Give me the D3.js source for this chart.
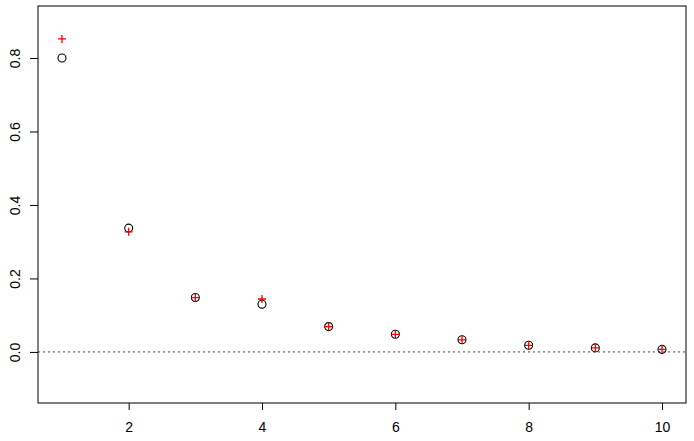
<!DOCTYPE html>
<html>
<head>
<meta charset="utf-8">
<script src="https://cdn.jsdelivr.net/npm/d3@7"></script>
<style>
  body { margin: 0; background: #fff; }
  svg text { font-family: "Liberation Sans", Arial, sans-serif; font-size: 14px; fill: #000; }
</style>
</head>
<body>
<div id="chart"></div>
<script>
// lag values, observed (circles) and fitted (red plus)
let lags = [1, 2, 3, 4, 5, 6, 7, 8, 9, 10];
let observed = [0.800, 0.337, 0.148, 0.130, 0.069, 0.048, 0.033, 0.018, 0.011, 0.007];
let fitted = [0.852, 0.327, 0.148, 0.144, 0.069, 0.048, 0.033, 0.018, 0.011, 0.007];
let xTicks = [2, 4, 6, 8, 10];
let yTicks = [0.0, 0.2, 0.4, 0.6, 0.8];

let width = 694,
    height = 441,
    margin = {top: 6, right: 8, bottom: 38, left: 38};

let svg = d3.select("#chart")
    .append("svg")
    .attr("width", width)
    .attr("height", height);

let x = d3.scaleLinear()
    .domain([0.64, 10.36])
    .range([margin.left, width - margin.right]);

let y = d3.scaleLinear()
    .domain([-0.139, 0.9415])
    .range([height - margin.bottom, margin.top]);

// box
svg.append("rect")
    .attr("x", margin.left)
    .attr("y", margin.top)
    .attr("width", width - margin.left - margin.right)
    .attr("height", height - margin.top - margin.bottom)
    .style("fill", "none")
    .style("stroke", "#000")
    .style("stroke-width", 1);

// x axis
let xAxis = svg.append("g")
    .attr("transform", "translate(0," + (height - margin.bottom) + ")")
    .call(d3.axisBottom(x).tickValues(xTicks).tickSize(7).tickPadding(12).tickFormat(d3.format("d")))
    .attr("font-size", 14)
    .attr("font-family", "Liberation Sans, Arial, sans-serif");
xAxis.select(".domain").remove();

// y axis, labels rotated like R
let yAxis = svg.append("g")
    .attr("transform", "translate(" + margin.left + ",0)")
    .call(d3.axisLeft(y).tickValues(yTicks).tickSize(8).tickFormat(d3.format(".1f")))
    .attr("font-size", 14)
    .attr("font-family", "Liberation Sans, Arial, sans-serif");
yAxis.select(".domain").remove();
yAxis.selectAll("text")
    .attr("x", null)
    .attr("dy", null)
    .attr("transform", "translate(-22,0) rotate(-90)")
    .style("text-anchor", "middle")
    .style("dominant-baseline", "middle");

// dotted zero line
svg.append("line")
    .attr("x1", margin.left)
    .attr("x2", width - margin.right)
    .attr("y1", y(0))
    .attr("y2", y(0))
    .style("stroke", "#444")
    .style("stroke-width", 1)
    .style("stroke-dasharray", "2,3");

// observed circles
svg.selectAll(".obs")
    .data(lags)
    .enter()
    .append("circle")
    .attr("class", "obs")
    .attr("cx", function (d) { return x(d); })
    .attr("cy", function (d, i) { return y(observed[i]); })
    .attr("r", 4)
    .style("fill", "none")
    .style("stroke", "#000")
    .style("stroke-width", 1.1);

// fitted plus signs
let s = 4;
svg.selectAll(".fit")
    .data(lags)
    .enter()
    .append("path")
    .attr("class", "fit")
    .attr("d", function (d, i) {
        let cx = x(d), cy = y(fitted[i]);
        return "M" + (cx - s) + "," + cy + "H" + (cx + s) + "M" + cx + "," + (cy - s) + "V" + (cy + s);
    })
    .style("stroke", "#ff0000")
    .style("stroke-width", 1.3)
    .style("fill", "none");
</script>
</body>
</html>
